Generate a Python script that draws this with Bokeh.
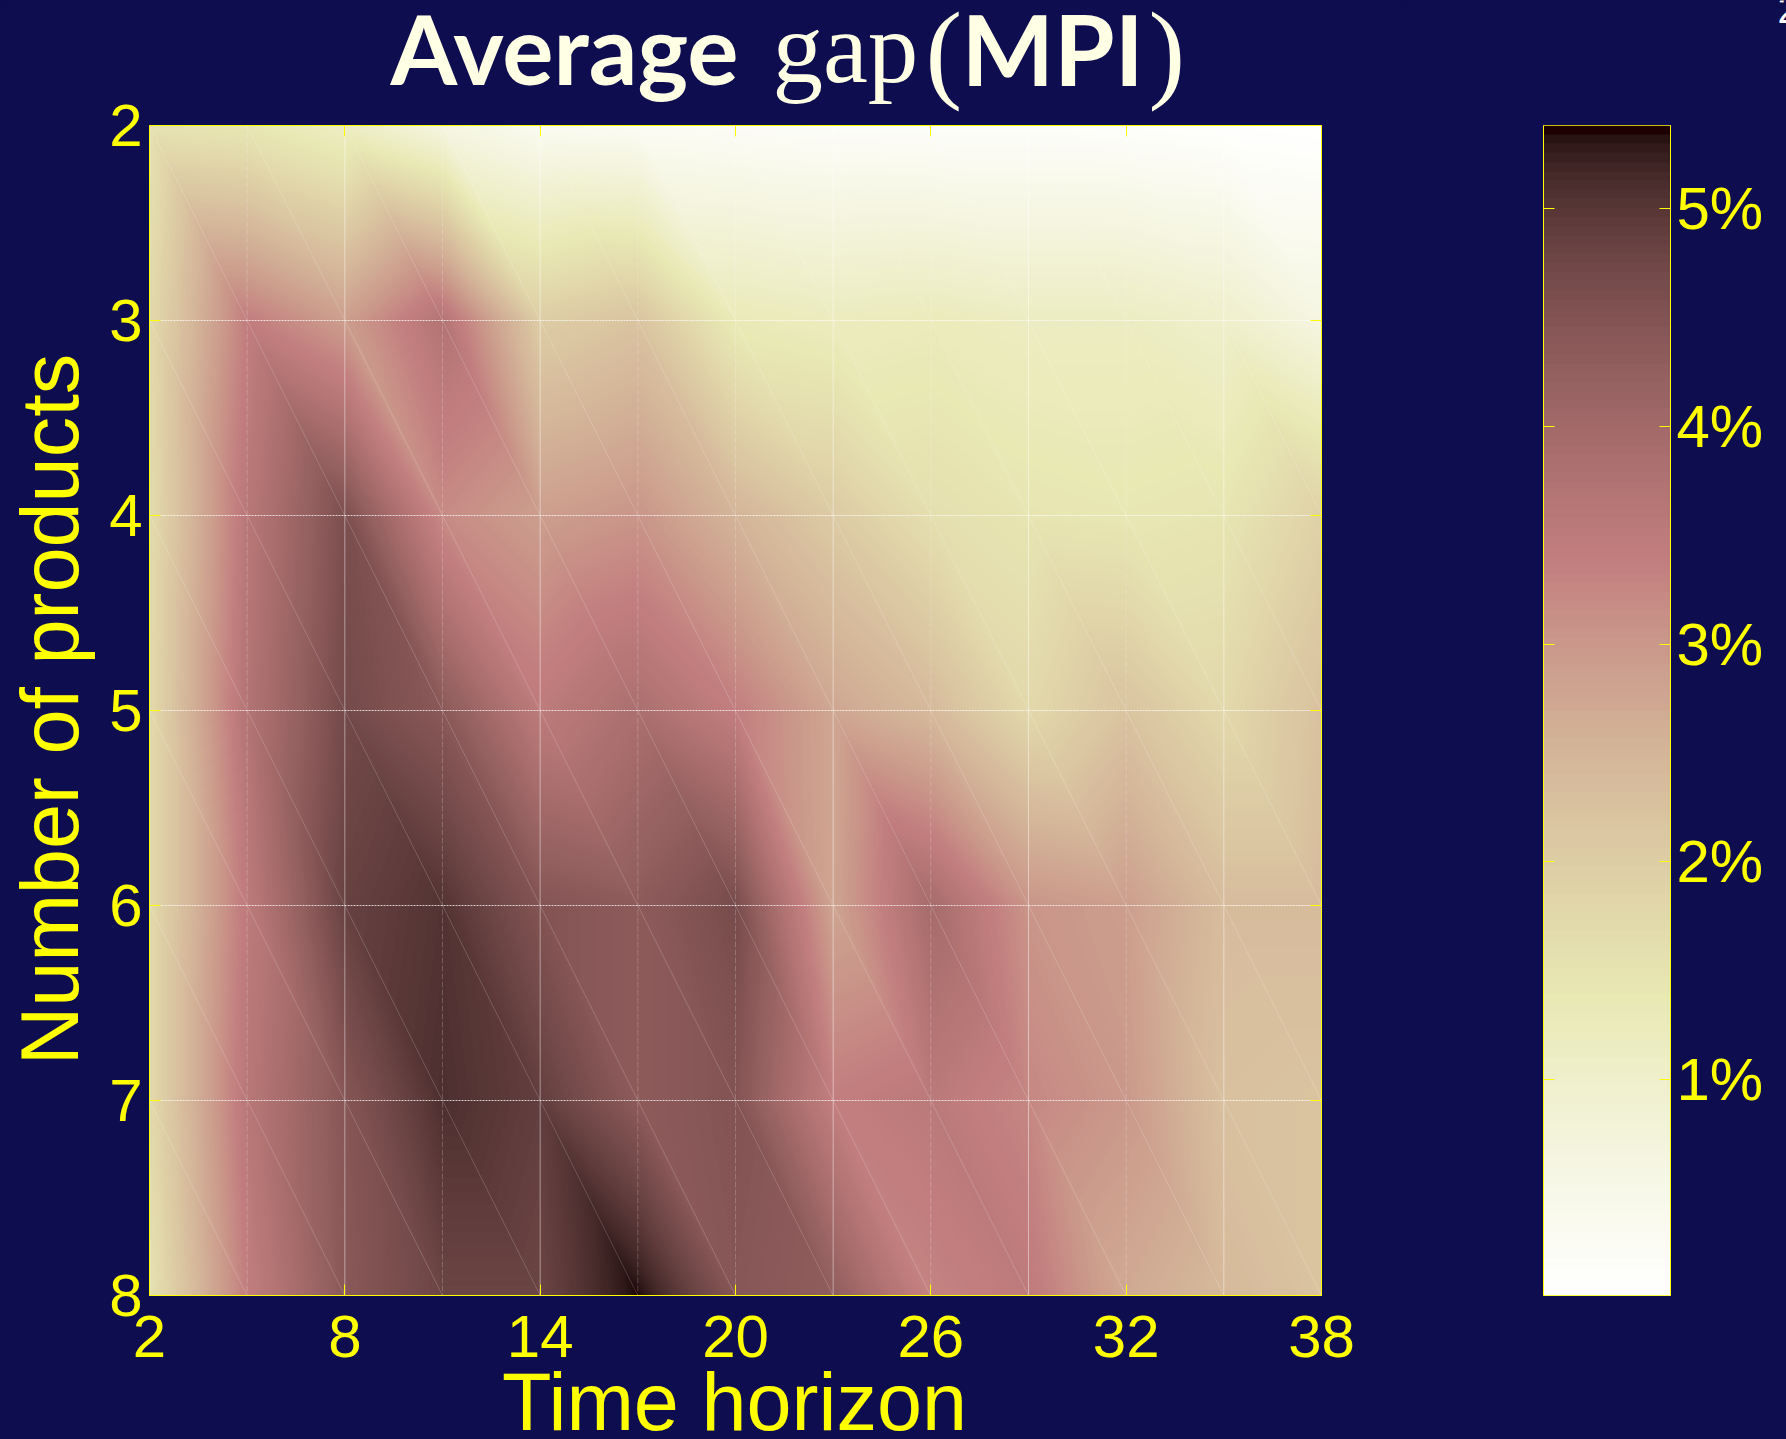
import numpy as np
from bokeh.core.properties import value
from bokeh.embed import file_html
from bokeh.layouts import column, row
from bokeh.models import FixedTicker, LinearAxis, LinearColorMapper, Range1d
from bokeh.plotting import figure
from bokeh.resources import INLINE

# ---- data -----------------------------------------------------------------
time_horizon = [2, 5, 8, 11, 14, 17, 20, 23, 26, 29, 32, 35, 38]
products = [2, 3, 4, 5, 6, 7, 8]
gap_p2 = [1.50, 1.40, 1.10, 0.60, 0.30, 0.25, 0.20, 0.15, 0.13, 0.12, 0.10, 0.05, 0.01]
gap_p3 = [1.70, 3.40, 2.90, 3.70, 2.00, 2.20, 1.30, 1.20, 1.25, 1.15, 1.15, 1.00, 0.60]
gap_p4 = [1.65, 3.60, 4.60, 3.20, 2.90, 3.05, 2.50, 2.05, 1.60, 1.45, 1.40, 1.45, 1.90]
gap_p5 = [1.70, 3.70, 4.70, 4.40, 3.50, 3.85, 3.40, 2.75, 2.40, 1.75, 2.20, 1.75, 2.25]
gap_p6 = [1.70, 3.50, 4.85, 5.05, 4.50, 4.35, 4.65, 2.80, 3.95, 3.05, 2.90, 2.35, 2.35]
gap_p7 = [1.70, 3.60, 4.45, 5.10, 4.90, 4.35, 4.50, 3.40, 3.55, 3.25, 3.00, 2.25, 2.20]
gap_p8 = [1.50, 3.40, 4.40, 4.80, 4.80, 5.38, 4.45, 4.30, 3.30, 3.50, 2.70, 2.40, 2.20]
x_ticks = [2, 8, 14, 20, 26, 32, 38]
y_ticks = [2, 3, 4, 5, 6, 7, 8]
cbar_ticks = [1, 2, 3, 4, 5]
cbar_labels = ["1%", "2%", "3%", "4%", "5%"]
gap_min, gap_max = 0.01, 5.38
solid_verticals = [8, 14, 23, 29, 35]
faint_verticals = [5, 11, 17, 20, 26, 32]

NAVY = "#0e0d50"
YELLOW = "#ffff00"
IVORY = "#ffffe6"
TICK_FONT = "Liberation Sans"

# ---- layout, in window pixels ----------------------------------------------
WIN_W, WIN_H = 1786, 1439
SPLIT = 1400
L, R, T, B = 149, 1321, 125, 1295
CL, CR = 1543, 1670


def matlab_pink_flipped(n):
    f = np.linspace(0, 1, n)
    r = np.clip((f * 63 + 1) / 24, 0, 1)
    g = np.clip((f - 0.375) / 0.375, 0, 1)
    b = np.clip((f - 0.75) / 0.25, 0, 1)
    rgb = np.sqrt((2 * f[:, None] + np.stack([r, g, b], axis=1)) / 3)
    rgb = (rgb * 255).round().astype(int)[::-1]
    return ["#%02x%02x%02x" % tuple(c) for c in rgb]


def gouraud(zz, w, h):
    """Linear shading over the triangles of the mesh (each cell split top-left to bottom-right)."""
    ny, nx = zz.shape
    u = (np.arange(w) + 0.5) / w * (nx - 1)
    v = (np.arange(h) + 0.5) / h * (ny - 1)
    uu, vv = np.meshgrid(u, v)
    i = np.minimum(uu.astype(int), nx - 2)
    j = np.minimum(vv.astype(int), ny - 2)
    fu, fv = uu - i, vv - j
    z00, z10 = zz[j, i], zz[j, i + 1]
    z01, z11 = zz[j + 1, i], zz[j + 1, i + 1]
    return np.where(fu >= fv,
                    z00 + fu * (z10 - z00) + fv * (z11 - z10),
                    z00 + fv * (z01 - z00) + fu * (z11 - z01))


zz = np.array([gap_p2, gap_p3, gap_p4, gap_p5, gap_p6, gap_p7, gap_p8], dtype=float)
mapper = LinearColorMapper(palette=matlab_pink_flipped(256), low=gap_min, high=gap_max)

x0, x1 = time_horizon[0], time_horizon[-1]
y0, y1 = products[0], products[-1]

p = figure(width=SPLIT, height=WIN_H, output_backend="svg", toolbar_location=None,
           x_range=Range1d(x0, x1), y_range=Range1d(y1, y0),
           min_border_left=L, min_border_right=SPLIT - R, min_border_top=T, min_border_bottom=WIN_H - B,
           background_fill_color=NAVY, border_fill_color=NAVY, outline_line_color=YELLOW,
           x_axis_location="below", y_axis_location="left")
p.grid.visible = False

p.image(image=[gouraud(zz, R - L, B - T)], x=x0, y=y0, dw=x1 - x0, dh=y1 - y0, color_mapper=mapper)

# mesh seams
p.multi_line(xs=[[x, x] for x in solid_verticals], ys=[[y0, y1]] * len(solid_verticals),
             line_color="#ffffff", line_alpha=0.45, line_width=1)
p.multi_line(xs=[[x, x] for x in faint_verticals], ys=[[y0, y1]] * len(faint_verticals),
             line_color="#ffffff", line_alpha=0.2, line_width=1, line_dash="6 2")
p.multi_line(xs=[[x0, x1] for _ in products[1:-1]], ys=[[y, y] for y in products[1:-1]],
             line_color="#ffffff", line_alpha=0.75, line_width=1, line_dash="2 1")
diag_xs, diag_ys = [], []
for jj in range(len(products) - 1):
    for ii in range(len(time_horizon) - 1):
        diag_xs.append([time_horizon[ii], time_horizon[ii + 1]])
        diag_ys.append([products[jj], products[jj + 1]])
p.multi_line(xs=diag_xs, ys=diag_ys, line_color="#ffffff", line_alpha=0.18, line_width=1)


def style_axis(ax, ticks, labelled):
    ax.ticker = FixedTicker(ticks=ticks)
    ax.axis_line_color = YELLOW
    ax.major_tick_line_color = YELLOW
    ax.major_tick_in = 11
    ax.major_tick_out = 0
    ax.minor_tick_line_color = None
    if labelled:
        ax.major_label_text_color = YELLOW
        ax.major_label_text_font = TICK_FONT
        ax.major_label_text_font_size = "60px"
    else:
        ax.major_label_overrides = {t: "" for t in ticks}
        ax.major_label_text_font_size = "1px"
        ax.major_label_standoff = 0


style_axis(p.xaxis[0], x_ticks, True)
style_axis(p.yaxis[0], y_ticks, True)
p.xaxis[0].major_label_standoff = 20
p.yaxis[0].major_label_standoff = 7
top_ax = LinearAxis()
right_ax = LinearAxis()
p.add_layout(top_ax, "above")
p.add_layout(right_ax, "right")
style_axis(top_ax, x_ticks, False)
style_axis(right_ax, y_ticks, False)

# ---- colour bar -------------------------------------------------------------
c = figure(width=WIN_W - SPLIT, height=WIN_H, output_backend="svg", toolbar_location=None,
           x_range=Range1d(0, 1), y_range=Range1d(gap_min, gap_max),
           min_border_left=CL - SPLIT, min_border_right=WIN_W - CR, min_border_top=T, min_border_bottom=WIN_H - B,
           background_fill_color=NAVY, border_fill_color=NAVY, outline_line_color=YELLOW,
           x_axis_location=None, y_axis_location="right")
c.grid.visible = False
bar = np.linspace(gap_min, gap_max, 128).reshape(-1, 1)
c.image(image=[bar], x=0, y=gap_min, dw=1, dh=gap_max - gap_min, color_mapper=mapper)
style_axis(c.yaxis[0], cbar_ticks, True)
c.yaxis[0].major_label_overrides = dict(zip(cbar_ticks, cbar_labels))
c.yaxis[0].major_label_standoff = 6
left_ax = LinearAxis()
c.add_layout(left_ax, "left")
style_axis(left_ax, cbar_ticks, False)

# ---- transparent sheet over the window, for texts that lie over the margins -
t = figure(width=WIN_W, height=WIN_H, output_backend="svg", toolbar_location=None,
           x_range=Range1d(0, WIN_W), y_range=Range1d(WIN_H, 0),
           x_axis_location=None, y_axis_location=None,
           min_border=0, background_fill_color=None, border_fill_color=None, outline_line_color=None,
           margin=(-WIN_H, 0, 0, 0))
t.grid.visible = False


def text(s, x, y, font, size, color, style="normal", angle=0.0, align="left"):
    t.text(x=[x], y=[y], text=[s], text_font=value(font), text_font_size=value(size), text_color=color,
           text_font_style=style, angle=angle, text_align=align, text_baseline="alphabetic")


text("Time horizon", 734, 1401, TICK_FONT, "81px", YELLOW, align="center")
text("Number of products", 49, 709, TICK_FONT, "81px", YELLOW, angle=np.pi / 2, align="center")
text("Average", 390, 47, "Lato", "96px", IVORY, style="bold")
text("gap", 772, 47, "Liberation Serif", "101px", IVORY)
text("(", 925, 50, "Liberation Serif", "110px", IVORY)
text("MPI", 961, 47, "Lato", "98px", IVORY, style="bold")
text(")", 1148, 50, "Liberation Serif", "110px", IVORY)
text("2", 1777, 8, TICK_FONT, "40px", "#ffffff")

page = column(row(p, c, spacing=0), t, spacing=0, styles={"background-color": NAVY})
open("out.html", "w").write(file_html(page, INLINE))
